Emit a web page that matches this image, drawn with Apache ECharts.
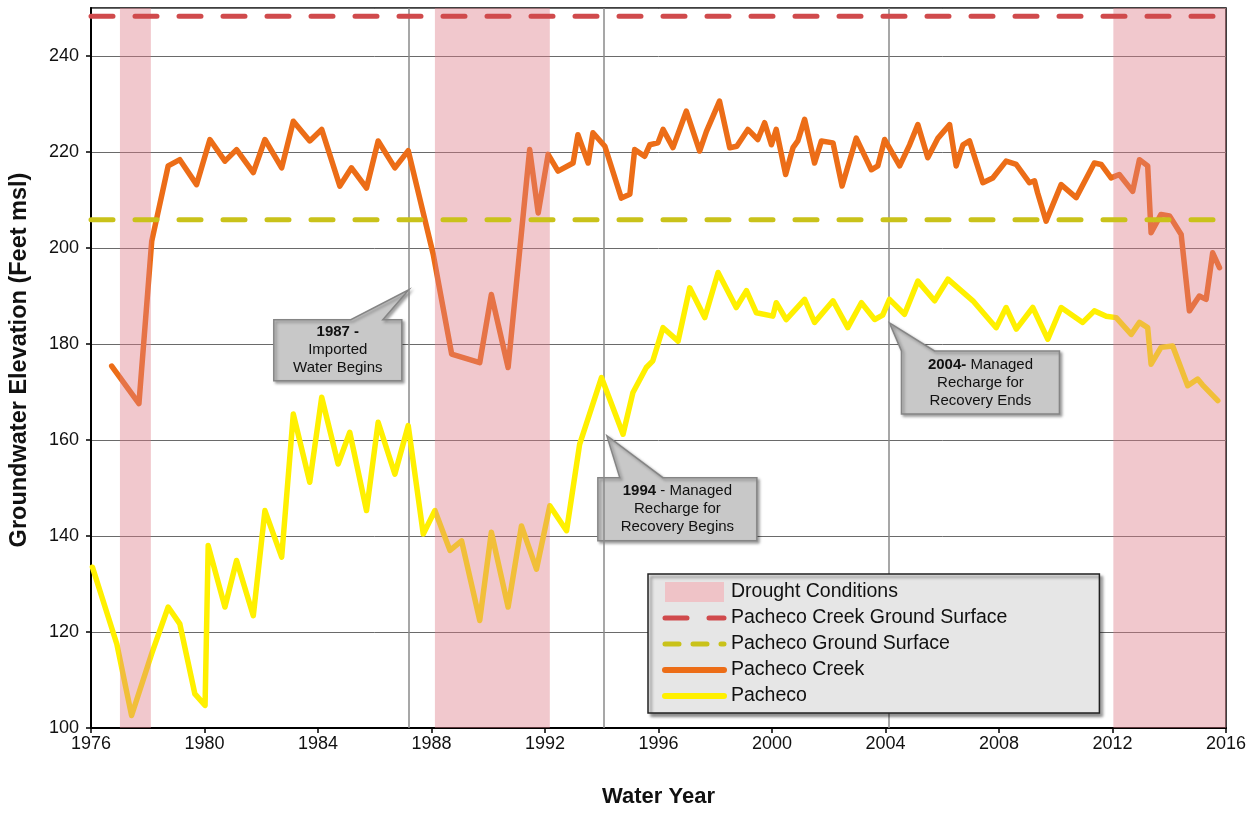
<!DOCTYPE html>
<html>
<head>
<meta charset="utf-8">
<script src="https://cdn.jsdelivr.net/npm/echarts@6/dist/echarts.min.js"></script>
<style>
html,body{margin:0;padding:0;background:#fff;}
#chart{width:1259px;height:813px;}
</style>
</head>
<body>
<div id="chart"></div>
<script>
// ---------------- DATA ----------------
const creekYears = [1976.73,1977.69,1978.14,1978.72,1979.13,1979.72,1980.19,1980.72,1981.13,1981.72,1982.13,1982.72,1983.13,1983.71,1984.13,1984.77,1985.18,1985.71,1986.12,1986.71,1987.18,1988.06,1988.71,1989.70,1990.11,1990.70,1991.46,1991.76,1992.11,1992.46,1992.99,1993.16,1993.52,1993.69,1994.11,1994.69,1994.99,1995.16,1995.51,1995.69,1995.98,1996.16,1996.51,1996.98,1997.45,1997.69,1998.15,1998.51,1998.76,1999.15,1999.50,1999.74,1999.98,2000.15,2000.48,2000.74,2000.91,2001.15,2001.50,2001.74,2002.15,2002.47,2002.97,2003.50,2003.73,2003.97,2004.50,2004.85,2005.14,2005.49,2005.85,2006.26,2006.49,2006.73,2006.96,2007.43,2007.78,2008.25,2008.61,2009.07,2009.25,2009.36,2009.66,2010.19,2010.72,2011.36,2011.60,2011.95,2012.24,2012.71,2012.95,2013.24,2013.36,2013.71,2014.01,2014.42,2014.71,2015.06,2015.30,2015.53,2015.77];
const creekLevels = [175.4,167.6,201.4,217.1,218.4,213.2,222.6,218.1,220.5,215.7,222.6,216.7,226.4,222.3,224.7,212.9,216.7,212.5,222.3,216.7,220.3,198.7,177.9,176.1,190.3,175.1,220.5,207.3,219.5,216.0,217.7,223.6,217.7,224.0,221.2,210.4,211.2,220.5,219.1,221.5,221.9,224.7,220.9,228.5,220.2,224.3,230.6,220.9,221.2,224.7,222.6,226.1,221.5,224.7,215.3,220.9,222.3,226.8,217.7,222.3,221.9,212.9,222.9,216.3,217.1,222.6,217.1,221.5,225.7,218.8,222.9,225.7,217.1,221.5,222.3,213.6,214.6,218.1,217.4,213.6,214.0,211.5,205.6,213.2,210.5,217.7,217.4,214.6,215.3,211.8,218.4,217.1,203.2,207.0,206.7,202.8,186.9,190.0,189.3,199.0,195.9];

const pachecoYears = [1976.05,1976.91,1977.43,1978.14,1978.72,1979.13,1979.66,1980.02,1980.13,1980.72,1981.13,1981.72,1982.13,1982.72,1983.13,1983.71,1984.13,1984.71,1985.12,1985.71,1986.12,1986.71,1987.18,1987.71,1988.12,1988.65,1989.06,1989.70,1990.11,1990.70,1991.17,1991.70,1992.17,1992.76,1993.22,1993.99,1994.75,1995.10,1995.57,1995.80,1996.16,1996.69,1997.10,1997.63,1998.10,1998.74,1999.10,1999.45,2000.03,2000.15,2000.50,2001.15,2001.50,2002.15,2002.67,2003.15,2003.62,2003.90,2004.14,2004.67,2005.14,2005.73,2006.20,2007.08,2007.90,2008.25,2008.61,2009.19,2009.72,2010.19,2010.95,2011.36,2011.78,2012.13,2012.66,2012.95,2013.24,2013.36,2013.71,2014.12,2014.65,2015.00,2015.17,2015.71];
const pachecoLevels = [133.5,117.5,102.6,115.5,125.2,121.7,107.1,104.7,138.0,125.2,134.9,123.4,145.3,135.6,165.4,151.2,168.9,155.0,161.6,145.3,163.7,152.9,163.0,140.4,145.3,137.0,139.0,122.4,140.8,125.2,142.1,133.1,146.3,141.1,159.1,173.0,161.2,169.9,175.1,176.5,183.4,180.6,191.7,185.5,194.9,187.6,191.1,186.5,185.8,188.6,185.1,189.3,184.5,189.0,183.4,188.6,185.1,186.0,189.3,186.2,193.1,189.0,193.5,189.0,183.4,187.6,183.1,187.6,181.0,187.6,184.5,186.9,185.8,185.5,182.0,184.5,183.4,175.8,179.3,179.6,171.3,172.7,171.5,168.2];

const creekGroundSurface = 248.3;
const pachecoGroundSurface = 205.9;
const surfaceSpan = [1976, 2015.6];

const droughtStart = [1977.02, 1988.12, 2012.03];
const droughtEnd   = [1978.11, 1992.17, 2016];

const eventYears = [1987.2, 1994.07, 2004.11];
const calloutTipYears  = [1987.2, 1994.18, 2004.14];
const calloutTipValues = [191.3, 160.9, 184.4];
const calloutTexts = [
  '{b|1987 -}\nImported\nWater Begins',
  '{b|1994} - Managed\nRecharge for\nRecovery Begins',
  '{b|2004-} Managed\nRecharge for\nRecovery Ends'
];

const seriesNames = ['Drought Conditions','Pacheco Creek Ground Surface','Pacheco Ground Surface','Pacheco Creek','Pacheco'];
const xTicks = {min:1976, max:2016, interval:4};
const yTicks = {min:100, max:250, interval:20};

// ---------------- CHART ----------------
const FONT = 'Liberation Sans, Arial, sans-serif';
const chart = echarts.init(document.getElementById('chart'), null, {renderer:'canvas'});
const pairs = (xs, ys) => xs.map((x,i)=>[x, ys[i]]);

const C = {drought:'#efc3c7', red:'#d04a4c', olive:'#c9c21a', orange:'#ec6d17', yellow:'#fff000'};
const hiddenSymbol = {opacity:0};

const option = {
  animation:false,
  backgroundColor:'#fff',
  grid:{left:91, right:33, top:8, bottom:82, show:true, borderColor:'#000', borderWidth:1.5, backgroundColor:'transparent'},
  xAxis:{
    type:'value', min:xTicks.min, max:xTicks.max, interval:xTicks.interval,
    name:'Water Year', nameLocation:'middle', nameGap:58,
    nameTextStyle:{fontFamily:FONT, fontSize:22, fontWeight:'bold', color:'#111'},
    axisLine:{show:true, lineStyle:{color:'#000', width:2}},
    axisTick:{show:true, length:5, lineStyle:{color:'#000', width:1.5}},
    axisLabel:{fontFamily:FONT, fontSize:18, color:'#111', margin:7, formatter:v=>String(v)},
    splitLine:{show:false}
  },
  yAxis:{
    type:'value', min:yTicks.min, max:yTicks.max, interval:yTicks.interval,
    name:'Groundwater Elevation (Feet msl)', nameLocation:'middle', nameGap:59, nameRotate:90,
    nameTextStyle:{fontFamily:FONT, fontSize:23.5, fontWeight:'bold', color:'#111', padding:[0,0,0,16]},
    axisLine:{show:true, lineStyle:{color:'#000', width:2}},
    axisTick:{show:true, length:5, lineStyle:{color:'#000', width:1.5}},
    axisLabel:{fontFamily:FONT, fontSize:18, color:'#111', margin:12, showMaxLabel:false},
    splitLine:{show:true, lineStyle:{color:'#6a6a6a', width:1}}
  },
  legend:{
    orient:'vertical', left:648, top:574,
    itemWidth:59, itemHeight:20, itemGap:6,
    padding:[8, 92, 7, 14],
    backgroundColor:'#e6e6e6', borderColor:'#222', borderWidth:1.5,
    shadowColor:'rgba(0,0,0,0.45)', shadowBlur:3, shadowOffsetX:3, shadowOffsetY:3,
    textStyle:{fontFamily:FONT, fontSize:19.5, color:'#111', padding:[0,0,0,2]},
    selectedMode:false,
    data:[
      {name:seriesNames[0], icon:'rect', itemStyle:{color:C.drought}},
      {name:seriesNames[1], itemStyle:hiddenSymbol, lineStyle:{color:C.red, width:5, type:[22,22], cap:'round', opacity:1}},
      {name:seriesNames[2], itemStyle:hiddenSymbol, lineStyle:{color:C.olive, width:5, type:[14,14], cap:'round', opacity:1}},
      {name:seriesNames[3], itemStyle:hiddenSymbol, lineStyle:{color:C.orange, width:6, type:'solid', cap:'round', opacity:1}},
      {name:seriesNames[4], itemStyle:hiddenSymbol, lineStyle:{color:C.yellow, width:6, type:'solid', cap:'round', opacity:1}}
    ]
  },
  series:[
    {
      name:seriesNames[0], type:'line', data:[], symbol:'none', z:3,
      itemStyle:{color:C.drought}, lineStyle:{color:C.drought},
      markArea:{
        silent:true, z:3,
        itemStyle:{color:'rgba(222,125,135,0.42)'},
        data: droughtStart.map((s,i)=>[{xAxis:s},{xAxis:droughtEnd[i]}])
      },
      markLine:{
        silent:true, symbol:'none', z:1, label:{show:false},
        lineStyle:{color:'#8a8a8a', width:1.5, type:'solid'},
        data: eventYears.map(y=>({xAxis:y}))
      }
    },
    {
      name:seriesNames[1], type:'line', symbol:'none', z:6,
      data:[[surfaceSpan[0], creekGroundSurface],[surfaceSpan[1], creekGroundSurface]],
      itemStyle:{color:C.red},
      lineStyle:{color:C.red, width:5, type:[22,22], cap:'round'}
    },
    {
      name:seriesNames[2], type:'line', symbol:'none', z:6,
      data:[[surfaceSpan[0], pachecoGroundSurface],[surfaceSpan[1], pachecoGroundSurface]],
      itemStyle:{color:C.olive},
      lineStyle:{color:C.olive, width:5, type:[22,22], cap:'round'}
    },
    {
      name:seriesNames[3], type:'line', symbol:'none', z:2,
      data:pairs(creekYears, creekLevels),
      itemStyle:{color:C.orange},
      lineStyle:{color:C.orange, width:5.5, join:'round', cap:'round'}
    },
    {
      name:seriesNames[4], type:'line', symbol:'none', z:2,
      data:pairs(pachecoYears, pachecoLevels),
      itemStyle:{color:C.yellow},
      lineStyle:{color:C.yellow, width:5.5, join:'round', cap:'round'}
    }
  ]
};
chart.setOption(option);

// ---------------- CALLOUTS (anchored through the chart's own scales) ----------------
// layout of each callout relative to its tip: [boxDx, boxDy, boxW, boxH, baseX1, baseX2]
const calloutLayout = [
  [-135, 30, 128, 61, -58, -26],
  [-9, 42, 159, 63, 13, 56],
  [12, 28, 158, 63, 12, 45]
];
const graphics = calloutTipYears.map((yr, i) => {
  const tip = chart.convertToPixel({gridIndex:0}, [yr, calloutTipValues[i]]);
  const [dx, dy, w, h, b1, b2] = calloutLayout[i];
  const pts = [[dx,dy],[b1,dy],[0,0],[b2,dy],[dx+w,dy],[dx+w,dy+h],[dx,dy+h]];
  return {
    type:'group', x:tip[0], y:tip[1], z:50,
    children:[
      {type:'polygon', shape:{points:pts},
       style:{fill:'#c8c8c8', stroke:'#858585', lineWidth:1.5,
              shadowBlur:3, shadowOffsetX:2, shadowOffsetY:2, shadowColor:'rgba(0,0,0,0.35)'}},
      {type:'text', x:dx+w/2, y:dy+h/2,
       style:{text:calloutTexts[i], align:'center', verticalAlign:'middle',
              fontFamily:FONT, fontSize:15, lineHeight:18, fill:'#111',
              rich:{b:{fontFamily:FONT, fontSize:15, fontWeight:'bold', lineHeight:18, fill:'#111'}}}}
    ]
  };
});
chart.setOption({graphic:graphics});
</script>
</body>
</html>
